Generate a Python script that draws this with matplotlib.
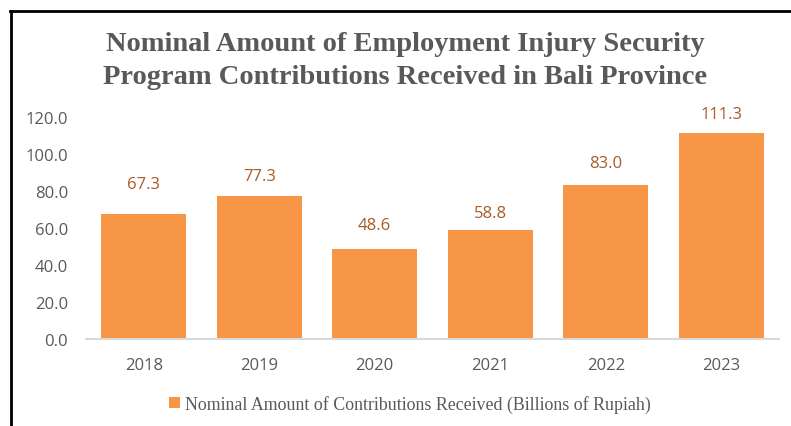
import matplotlib.pyplot as plt
from matplotlib.patches import Patch
from matplotlib.lines import Line2D

# Contributions received per year (billions of rupiah)
years = ["2018", "2019", "2020", "2021", "2022", "2023"]
contributions = [67.3, 77.3, 48.6, 58.8, 83.0, 111.3]
y_ticks = [0, 20, 40, 60, 80, 100, 120]

# vertical gap (pixels) between each bar top and its value label
label_gaps = [30, 20, 24, 17, 22, 19]

bar_color = "#F79646"
label_color = "#A85B25"
text_gray = "#595959"

fig = plt.figure(figsize=(7.91, 4.27), dpi=100)
ax = fig.add_axes([86 / 791, 1 - 340 / 427, (779 - 86) / 791, (340 - 118) / 427])

x = range(len(years))
bars = ax.bar(x, contributions, width=0.74, color=bar_color)
ax.set_xlim(-0.5, len(years) - 0.5)
ax.set_ylim(0, 120)

for b, v, gap in zip(bars, contributions, label_gaps):
    ax.annotate(f"{v:.1f}", (b.get_x() + b.get_width() / 2, v),
                xytext=(0, gap), textcoords="offset pixels",
                ha="center", va="center", color=label_color,
                fontsize=12, family="Open Sans", annotation_clip=False)

ax.set_xticks(list(x))
ax.set_xticklabels(years, fontsize=12, color=text_gray, family="Open Sans")
ax.set_yticks(y_ticks)
ax.set_yticklabels([f"{t:.1f}" for t in y_ticks], fontsize=12,
                   color=text_gray, family="Open Sans")
ax.tick_params(axis="both", length=0)
ax.tick_params(axis="x", pad=13)
ax.tick_params(axis="y", pad=13)

for side in ["top", "right", "left"]:
    ax.spines[side].set_visible(False)
ax.spines["bottom"].set_color("#D9D9D9")
ax.spines["bottom"].set_linewidth(1.5)

fig.text(405 / 791, 1 - 61 / 427,
         "Nominal Amount of Employment Injury Security\nProgram Contributions Received in Bali Province",
         ha="center", va="center", fontsize=20.5, fontweight="bold",
         color=text_gray, family="Liberation Serif", linespacing=1.42)

handle = Patch(facecolor=bar_color, edgecolor="none")
fig.legend([handle], ["Nominal Amount of Contributions Received (Billions of Rupiah)"],
           loc="center", bbox_to_anchor=(410 / 791, 1 - 405 / 427),
           frameon=False, handlelength=0.6, handleheight=0.6, handletextpad=0.3,
           prop={"family": "Liberation Serif", "size": 12.9},
           labelcolor=text_gray)

# chart frame along the top and left edges
fig.add_artist(Line2D([10 / 791, 1], [1 - 11.5 / 427, 1 - 11.5 / 427],
                      transform=fig.transFigure, color="black", linewidth=2))
fig.add_artist(Line2D([10.5 / 791, 10.5 / 791], [0, 1 - 11.5 / 427],
                      transform=fig.transFigure, color="black", linewidth=2))

fig.savefig("out.png", dpi=100)
